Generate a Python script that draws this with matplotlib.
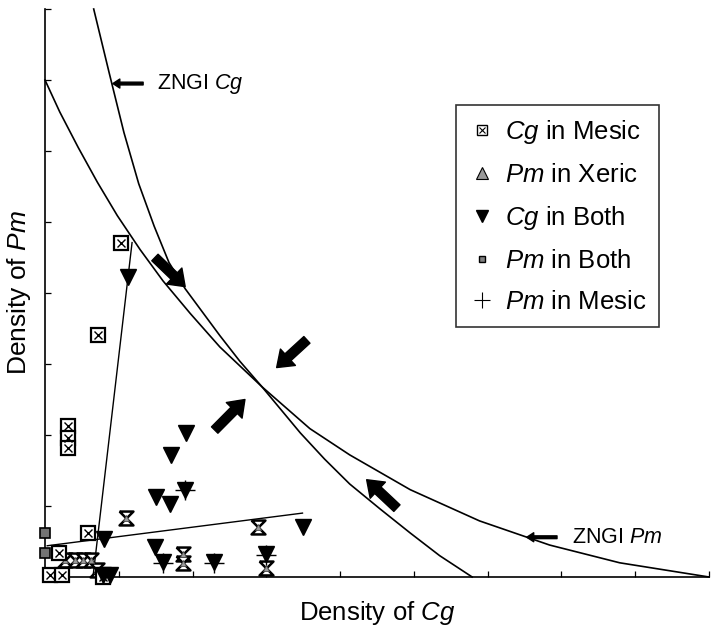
import numpy as np
import matplotlib
matplotlib.use('Agg')
import matplotlib.pyplot as plt
from matplotlib.lines import Line2D

plt.rcParams['font.family'] = ['Liberation Sans', 'DejaVu Sans']
plt.rcParams['mathtext.fontset'] = 'custom'
plt.rcParams['mathtext.rm'] = 'Liberation Sans'
plt.rcParams['mathtext.it'] = 'Liberation Sans:italic'

## ZNGI curves
zngi_cg_x = [0.66, 0.87, 1.07, 1.27, 1.48, 1.68, 1.90, 2.37, 2.64, 2.94, 3.46, 3.79,
             4.13, 4.54, 4.95, 5.35, 5.79]
zngi_cg_y = [8.00, 7.10, 6.26, 5.54, 4.94, 4.43, 4.06, 3.40, 3.04, 2.68, 2.03, 1.66,
             1.31, 0.96, 0.62, 0.30, 0.00]
zngi_pm_x = [0.00, 0.20, 0.45, 0.71, 0.98, 1.29, 1.60, 1.97, 2.37, 2.94, 3.59, 4.13,
             4.95, 5.89, 6.84, 7.79, 9.00]
zngi_pm_y = [7.00, 6.55, 6.05, 5.56, 5.09, 4.61, 4.17, 3.71, 3.24, 2.68, 2.09, 1.72,
             1.23, 0.79, 0.45, 0.20, 0.00]

## fitted lines
steep_x = [1.18, 0.65]
steep_y = [4.71, 0.00]
shallow_x = [0.03, 3.49]
shallow_y = [0.44, 0.90]

## plot densities
cg_mesic_x = [1.03, 0.72, 0.31, 0.31, 0.31, 0.58, 0.19, 0.07, 0.23, 0.79]
cg_mesic_y = [4.71, 3.41, 2.12, 1.96, 1.82, 0.62, 0.34, 0.03, 0.03, 0.00]
pm_xeric_x = [1.10, 2.89, 1.87, 1.87, 2.99, 0.27, 0.41, 0.51, 0.62, 0.70]
pm_xeric_y = [0.83, 0.71, 0.32, 0.20, 0.13, 0.24, 0.24, 0.24, 0.24, 0.10]
cg_both_x = [1.12, 1.91, 1.71, 1.50, 1.69, 1.90, 0.80, 3.50, 1.49, 1.60, 2.29, 2.99, 0.88, 0.79]
cg_both_y = [4.22, 2.03, 1.72, 1.13, 1.03, 1.23, 0.54, 0.71, 0.42, 0.21, 0.21, 0.32, 0.03, 0.03]
pm_both_x = [0.00, 0.00]
pm_both_y = [0.62, 0.34]
pm_mesic_x = [1.90, 1.60, 2.29, 2.99]
pm_mesic_y = [1.22, 0.20, 0.20, 0.31]

hourglass = [(-1, 1), (1, 1), (0, 0), (1, -1), (-1, -1), (0, 0), (-1, 1)]

fig = plt.figure(figsize=(7.16, 6.27), dpi=100)
ax = fig.add_axes([45/716, 50/627, 664/716, 568/627])
ax.set_xlim(0, 9)
ax.set_ylim(0, 8)
ax.spines['top'].set_visible(False)
ax.spines['right'].set_visible(False)
for s in ['left', 'bottom']:
    ax.spines[s].set_linewidth(1.2)
ax.set_xticks(np.arange(1, 10))
ax.set_yticks(np.arange(1, 9))
ax.tick_params(direction='in', length=4, width=0.9, labelbottom=False, labelleft=False)

## curves and lines
ax.plot(zngi_cg_x, zngi_cg_y, color='black', lw=1.2, clip_on=False)
ax.plot(zngi_pm_x, zngi_pm_y, color='black', lw=1.2, clip_on=False)
ax.plot(steep_x, steep_y, color='black', lw=1.0)
ax.plot(shallow_x, shallow_y, color='black', lw=1.0)

## markers
ax.plot(pm_xeric_x, pm_xeric_y, ls='none', marker=hourglass, ms=10, mfc='white',
        mec='black', mew=1.8, clip_on=False, zorder=3)
ax.plot(pm_xeric_x, pm_xeric_y, ls='none', marker='^', ms=5, mfc='0.6',
        mec='0.3', mew=0.6, clip_on=False, zorder=3)
ax.plot(cg_mesic_x, cg_mesic_y, ls='none', marker='s', ms=10, mfc='white',
        mec='black', mew=1.6, clip_on=False, zorder=4)
ax.plot(cg_mesic_x, cg_mesic_y, ls='none', marker='x', ms=6, mec='black',
        mew=1.0, clip_on=False, zorder=4)
ax.plot(cg_both_x, cg_both_y, ls='none', marker='v', ms=11, mfc='black',
        mec='black', clip_on=False, zorder=5)
ax.plot(pm_mesic_x, pm_mesic_y, ls='none', marker='+', ms=15, mec='black',
        mew=1.0, clip_on=False, zorder=5)
ax.plot(pm_both_x, pm_both_y, ls='none', marker='s', ms=7, mfc='0.45',
        mec='black', mew=1.2, clip_on=False, zorder=5)

## thick arrows
arr = dict(width=6.5, headwidth=16, headlength=11, color='black')
ax.annotate('', xy=(1.90, 4.09), xytext=(1.49, 4.50), arrowprops=arr)
ax.annotate('', xy=(3.14, 2.95), xytext=(3.55, 3.34), arrowprops=arr)
ax.annotate('', xy=(2.71, 2.50), xytext=(2.30, 2.07), arrowprops=arr)
ax.annotate('', xy=(4.36, 1.37), xytext=(4.77, 0.97), arrowprops=arr)

## ZNGI labels
small = dict(width=2, headwidth=6.5, headlength=5, color='black')
ax.annotate('', xy=(0.92, 6.95), xytext=(1.33, 6.95), arrowprops=small)
ax.text(1.52, 6.95, r'ZNGI $\mathit{Cg}$', fontsize=15.5, va='center', ha='left')
ax.annotate('', xy=(6.53, 0.56), xytext=(6.94, 0.56), arrowprops=small)
ax.text(7.14, 0.56, r'ZNGI $\mathit{Pm}$', fontsize=15.5, va='center', ha='left')

## axis labels
ax.set_xlabel(r'Density of $\mathit{Cg}$', fontsize=18.5)
ax.xaxis.set_label_coords(0.5, -0.038)
ax.set_ylabel(r'Density of $\mathit{Pm}$', fontsize=19)
ax.yaxis.set_label_coords(-0.018, 0.5)

## legend
h1 = (Line2D([], [], ls='none', marker='s', ms=7, mfc='white', mec='black', mew=1.0),
      Line2D([], [], ls='none', marker='x', ms=5, mec='black', mew=0.8))
h2 = Line2D([], [], ls='none', marker='^', ms=8, mfc='0.6', mec='black', mew=0.8)
h3 = Line2D([], [], ls='none', marker='v', ms=9, mfc='black', mec='black')
h4 = Line2D([], [], ls='none', marker='s', ms=5, mfc='0.5', mec='black', mew=1.0)
h5 = Line2D([], [], ls='none', marker='+', ms=12, mec='black', mew=0.8)
labels = [r'$\mathit{Cg}$ in Mesic', r'$\mathit{Pm}$ in Xeric', r'$\mathit{Cg}$ in Both',
          r'$\mathit{Pm}$ in Both', r'$\mathit{Pm}$ in Mesic']
leg = ax.legend([h1, h2, h3, h4, h5], labels, loc='upper left',
                bbox_to_anchor=(456/716, 1 - 105/627), bbox_transform=fig.transFigure,
                fontsize=18.5, frameon=True, fancybox=False, borderaxespad=0,
                handlelength=1.0, handletextpad=0.4, labelspacing=0.66,
                borderpad=0.5)
leg.get_frame().set_edgecolor('black')
leg.get_frame().set_linewidth(1.2)

fig.savefig('out.png', dpi=100)
